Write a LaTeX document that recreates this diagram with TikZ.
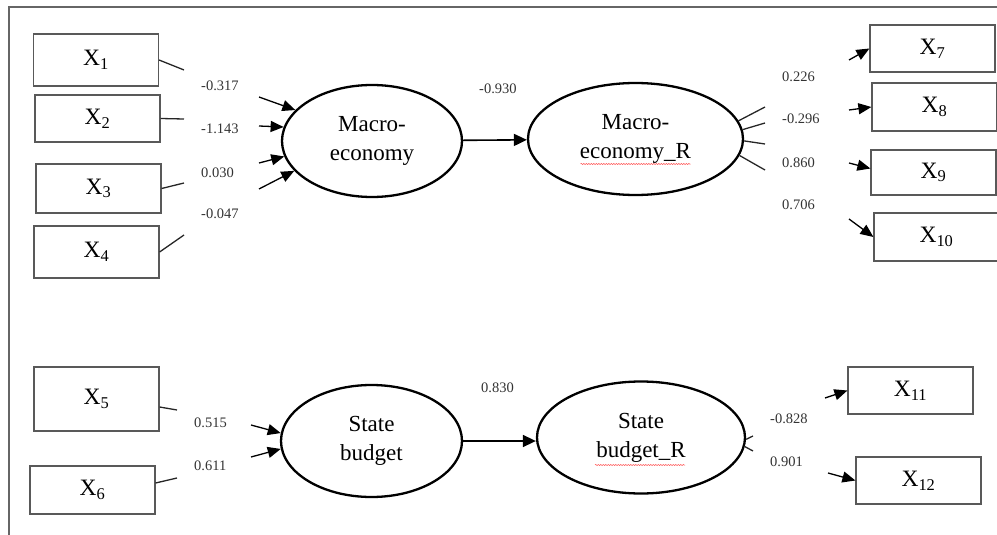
\documentclass[tikz,border=0pt]{standalone}
\usepackage{fontspec}
\setmainfont{Liberation Serif}
\usepackage{tikz}
\usetikzlibrary{positioning,shapes,arrows.meta,decorations.pathmorphing}

\begin{document}
\begin{tikzpicture}[
            x=1pt, y=-1pt,
            frame/.style={draw=black!60, line width=1.3pt},
            var/.style={rectangle, draw=black!65, line width=1.2pt, minimum width=125pt, inner sep=0pt, font=\fontsize{23.5}{28}\selectfont},
            latent/.style={ellipse, draw=black, line width=2.3pt, minimum height=112pt, inner sep=0pt, align=center, font=\fontsize{23}{29}\selectfont},
            coef/.style={anchor=base west, inner sep=0pt, text=black!80, font=\fontsize{14.5}{16}\selectfont},
            stub/.style={draw=black!85, line width=1.3pt},
            loadarr/.style={-{Triangle[length=13pt,width=11pt]}, line width=1.3pt},
            regr/.style={-{Triangle[length=13pt,width=12pt]}, line width=1.6pt},
            spell/.style={draw=red!70, line width=0.5pt, decorate, decoration={snake, amplitude=0.6pt, segment length=2.5pt}},
            auto
        ]
            \useasboundingbox (0,0) rectangle (997,535);
            \draw[frame] (9,535) -- (9,7) -- (997,7);

            % Observed variables
            \node[var, minimum height=52pt] (x1) at ( 96, 60) {X\textsubscript{1}};
            \node[var, minimum height=47pt] (x2) at ( 97.5,118.5) {X\textsubscript{2}};
            \node[var, minimum height=49pt] (x3) at ( 98.5,188.5) {X\textsubscript{3}};
            \node[var, minimum height=52pt] (x4) at ( 96.5,252) {X\textsubscript{4}};
            \node[var, minimum height=64pt] (x5) at ( 96.5,399) {X\textsubscript{5}};
            \node[var, minimum height=48pt] (x6) at ( 92.5,490) {X\textsubscript{6}};
            \node[var, minimum height=47pt] (x7) at (932.5, 48.5) {X\textsubscript{7}};
            \node[var, minimum height=48pt] (x8) at (934.5,107) {X\textsubscript{8}};
            \node[var, minimum height=45pt] (x9) at (933.5,172.5) {X\textsubscript{9}};
            \node[var, minimum height=48pt] (x10) at (936.5,237) {X\textsubscript{10}};
            \node[var, minimum height=47pt] (x11) at (910.5,390.5) {X\textsubscript{11}};
            \node[var, minimum height=47pt] (x12) at (918.5,480.5) {X\textsubscript{12}};

            % Latent variables
            \node[latent, minimum width=180pt] (me) at (372,141) {Macro-\\economy};
            \node[latent, minimum width=215pt] (mr) at (635.5,139) {Macro-\\economy\_R};
            \node[latent, minimum width=181pt] (sb) at (371.5,441) {State\\budget};
            \node[latent, minimum width=208pt] (sr) at (641,437.5) {State\\budget\_R};
            \draw[spell] ([shift={(-55,25)}]mr.center) -- ++(110,0);
            \draw[spell] ([shift={(-46,27.5)}]sr.center) -- ++(90,0);

            % Coefficients
            \node[coef] (c1) at (201, 91) {-0.317};
            \node[coef] (c2) at (201,133) {-1.143};
            \node[coef] (c3) at (201,177) {0.030};
            \node[coef] (c4) at (201,218) {-0.047};
            \node[coef] (c5) at (194,427) {0.515};
            \node[coef] (c6) at (194,470) {0.611};
            \node[coef] (c7) at (782, 82) {0.226};
            \node[coef] (c8) at (782,124) {-0.296};
            \node[coef] (c9) at (782,167) {0.860};
            \node[coef] (c10) at (782,209) {0.706};
            \node[coef] (c11) at (770,423) {-0.828};
            \node[coef] (c12) at (770,466) {0.901};
            \node[coef] (cm) at (479, 93) {-0.930};
            \node[coef] (cs) at (481,392) {0.830};

            % Free ends
            \coordinate (s1) at (184, 70);
            \coordinate (s2) at (184,119);
            \coordinate (s3) at (184,183);
            \coordinate (s4) at (184,235);
            \coordinate (s5) at (177,410);
            \coordinate (s6) at (177,478);
            \coordinate (s7) at (765,107);
            \coordinate (s8) at (765,123);
            \coordinate (s9) at (765,144);
            \coordinate (s10) at (765,170);
            \coordinate (s11) at (753,436);
            \coordinate (s12) at (753,451);
            \coordinate (a1) at (259, 97);
            \coordinate (a2) at (259,126);
            \coordinate (a3) at (259,163);
            \coordinate (a4) at (259,189);
            \coordinate (a5) at (251,425);
            \coordinate (a6) at (251,457);
            \coordinate (a7) at (849, 60);
            \coordinate (a8) at (849,110);
            \coordinate (a9) at (849,163);
            \coordinate (a10) at (849,219);
            \coordinate (a11) at (825,398);
            \coordinate (a12) at (828,473);

            % Edges
            \draw[stub] (x1.east) -- (s1);
            \draw[stub] (x2.east) -- (s2);
            \draw[stub] (x3.east) -- (s3);
            \draw[stub] (x4.east) -- (s4);
            \draw[stub] ([yshift=-8pt]x5.east) -- (s5);
            \draw[stub] ([yshift=7pt]x6.east) -- (s6);
            \draw[loadarr] (a1) -- (me.158);
            \draw[loadarr] (a2) -- (me.171);
            \draw[loadarr] (a3) -- (me.190);
            \draw[loadarr] (a4) -- (me.201);
            \draw[loadarr] (a5) -- (sb.175);
            \draw[loadarr] (a6) -- (sb.185);
            \draw[regr] (me) -- (mr);
            \draw[regr] (sb.east) -- (sb.east -| sr.west);
            \draw[stub] (mr.10) -- (s7);
            \draw[stub] (mr.5) -- (s8);
            \draw[stub] (mr.-1) -- (s9);
            \draw[stub] (mr.-9) -- (s10);
            \draw[stub] (sr.-1) -- (s11);
            \draw[stub] (sr.-5) -- (s12);
            \draw[loadarr] (a7) -- (x7.west);
            \draw[loadarr] (a8) -- (x8.west);
            \draw[loadarr] (a9) -- ([yshift=4pt]x9.west);
            \draw[loadarr] (a10) -- (x10.west);
            \draw[loadarr] (a11) -- (x11.west);
            \draw[loadarr] (a12) -- (x12.west);
        \end{tikzpicture}
\end{document}
